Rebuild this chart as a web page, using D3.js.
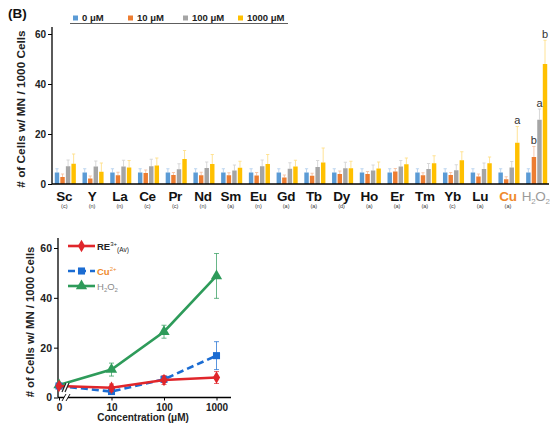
<!DOCTYPE html>
<html>
<head>
<meta charset="utf-8">
<script src="https://cdn.jsdelivr.net/npm/d3@7"></script>
<style>
  html, body { margin: 0; padding: 0; background: #fff; }
  svg { display: block; font-family: "Liberation Sans", Arial, sans-serif; }
</style>
</head>
<body>
<svg id="chart" width="550" height="425"></svg>
<script>
// ---- Panel (B) top: micronucleus counts per element and dose ----
const categories = ["Sc","Y","La","Ce","Pr","Nd","Sm","Eu","Gd","Tb","Dy","Ho","Er","Tm","Yb","Lu","Cu","H2O2"];
const subLabels  = ["(c)","(n)","(n)","(c)","(c)","(n)","(a)","(n)","(a)","(a)","(d)","(a)","(a)","(a)","(c)","(a)","(a)",""];
const doses = ["0 μM","10 μM","100 μM","1000 μM"];

const dose0    = [4.6,4.6,4.6,4.6,4.6,4.6,4.6,4.6,4.6,4.6,4.6,4.6,4.6,4.6,4.6,4.6,4.6,4.6];
const dose10   = [2.8,2.2,3.5,4.4,3.6,3.5,3.5,3.4,2.6,3.3,4.0,4.0,5.0,3.5,3.6,3.0,1.9,10.8];
const dose100  = [7.1,7.0,7.0,7.1,5.9,6.4,5.4,7.1,6.1,6.8,6.3,5.4,7.0,6.0,5.5,6.0,6.6,25.7];
const dose1000 = [8.1,4.9,6.6,7.4,10.0,8.0,6.5,8.0,7.0,8.6,6.3,6.2,7.9,8.3,9.5,8.3,16.5,48.0];

const err0    = [1.5,1.5,1.5,1.5,1.5,1.5,1.5,1.5,1.5,1.5,1.5,1.5,1.5,1.5,1.5,1.5,1.5,1.5];
const err10   = [1.2,1.0,1.2,1.2,1.0,1.2,1.0,1.2,1.0,1.0,1.2,1.0,1.2,1.0,1.0,1.0,1.0,4.2];
const err100  = [2.5,2.2,2.5,2.8,2.2,2.4,2.2,2.5,2.4,2.6,2.4,2.2,2.4,2.2,2.2,2.4,2.4,4.3];
const err1000 = [3.9,3.5,2.8,3.0,3.4,3.8,2.6,3.8,2.5,5.8,2.8,2.6,2.5,3.0,3.4,2.5,6.5,9.5];

// significance letters: [category, dose index, letter]
const sigLetters = [["Cu",3,"a"],["H2O2",1,"b"],["H2O2",2,"a"],["H2O2",3,"b"]];

const barColors = ["#5b9bd5","#ed7d31","#a5a5a5","#ffc000"];
const errColors = ["#b4d0ee","#f6c1a0","#d4d4d4","#ffe08a"];

// ---- Panel bottom: dose-response lines ----
const concLabels = ["0","10","100","1000"];
const reAvg    = [4.6, 3.9, 7.0, 8.0];
const reErr    = [1.0, 1.5, 1.8, 2.4];
const cuLine   = [4.6, 2.4, 7.3, 16.8];
const cuErr    = [0.8, 1.2, 1.2, 5.6];
const h2o2Line = [5.0, 11.2, 26.4, 48.8];
const h2o2Err  = [0.8, 2.6, 2.6, 9.0];

const svg = d3.select("#chart");
const bold = "bold";

// ================= top bar chart =================
const gTop = svg.append("g");
const yBar = d3.scaleLinear().domain([0, 60]).range([184, 34]);
const xBand = d3.scaleBand().domain(categories).range([52, 550]).paddingInner(0.24).paddingOuter(0.1);
const xInner = d3.scaleBand().domain(d3.range(4)).range([0, xBand.bandwidth()]).paddingInner(0.2);

const values = [dose0, dose10, dose100, dose1000];
const errs = [err0, err10, err100, err1000];

// error bars (upper only) drawn behind bars
categories.forEach((c, i) => {
  values.forEach((arr, s) => {
    const cx = xBand(c) + xInner(s) + xInner.bandwidth() / 2;
    const yTop = yBar(arr[i] + errs[s][i]);
    gTop.append("line").attr("x1", cx).attr("x2", cx)
      .attr("y1", yBar(arr[i])).attr("y2", yTop)
      .attr("stroke", errColors[s]).attr("stroke-width", 0.9);
    gTop.append("line").attr("x1", cx - 1.6).attr("x2", cx + 1.6)
      .attr("y1", yTop).attr("y2", yTop)
      .attr("stroke", errColors[s]).attr("stroke-width", 0.9);
  });
});

categories.forEach((c, i) => {
  values.forEach((arr, s) => {
    gTop.append("rect")
      .attr("x", xBand(c) + xInner(s))
      .attr("y", yBar(arr[i]))
      .attr("width", xInner.bandwidth())
      .attr("height", yBar(0) - yBar(arr[i]))
      .attr("fill", barColors[s]);
  });
});

// significance letters
sigLetters.forEach(([c, s, t]) => {
  const i = categories.indexOf(c);
  const cx = xBand(c) + xInner(s) + xInner.bandwidth() / 2;
  gTop.append("text").attr("x", cx).attr("y", yBar(values[s][i] + errs[s][i]) - 2.5)
    .attr("text-anchor", "middle").attr("font-size", 11).attr("fill", "#333").text(t);
});

// y axis
const yAxisTop = d3.axisLeft(yBar).tickValues([0, 20, 40, 60]).tickSize(4).tickPadding(2);
const gyTop = gTop.append("g").attr("transform", "translate(52,0)").call(yAxisTop);
gyTop.select(".domain").attr("d", "M0,27V184").attr("stroke", "#000").attr("stroke-width", 1.3);
gyTop.selectAll(".tick line").attr("stroke", "#000").attr("stroke-width", 1);
gyTop.selectAll(".tick text").attr("font-size", 10).attr("font-weight", bold).attr("fill", "#222")
  .attr("font-family", "Liberation Sans, Arial, sans-serif");

// x axis line
gTop.append("line").attr("x1", 52).attr("x2", 549).attr("y1", yBar(0)).attr("y2", yBar(0))
  .attr("stroke", "#000").attr("stroke-width", 1.5);

// category labels
categories.forEach((c, i) => {
  const cx = xBand(c) + xBand.bandwidth() / 2 - 1;
  const col = c === "Cu" ? "#ef8a2c" : (c === "H2O2" ? "#9a9a9a" : "#111");
  const t = gTop.append("text").attr("x", cx).attr("y", 201)
    .attr("text-anchor", "middle").attr("font-size", 13.5).attr("font-weight", bold)
    .attr("fill", col).attr("letter-spacing", -0.3);
  if (c === "H2O2") {
    t.attr("font-weight", "normal");
    t.append("tspan").text("H");
    t.append("tspan").attr("font-size", 8).attr("dy", 3).text("2");
    t.append("tspan").attr("dy", -3).text("O");
    t.append("tspan").attr("font-size", 8).attr("dy", 3).text("2");
  } else {
    t.text(c);
  }
  if (subLabels[i]) {
    gTop.append("text").attr("x", cx).attr("y", 208)
      .attr("text-anchor", "middle").attr("font-size", 5.5).attr("fill", "#333").text(subLabels[i]);
  }
});

// y axis title
gTop.append("text").attr("transform", "translate(25,109) rotate(-90)")
  .attr("text-anchor", "middle").attr("font-size", 11.8).attr("font-weight", bold).attr("fill", "#222")
  .text("# of Cells w/ MN / 1000 Cells");

// panel label
svg.append("text").attr("x", 8).attr("y", 18).attr("font-size", 13.5).attr("font-weight", bold)
  .attr("fill", "#111").text("(B)");

// legend
const legX = [73, 128, 183, 238];
doses.forEach((d, s) => {
  svg.append("rect").attr("x", legX[s]).attr("y", 15.5).attr("width", 5).attr("height", 5).attr("fill", barColors[s]);
  svg.append("text").attr("x", legX[s] + 9).attr("y", 21).attr("font-size", 9.5).attr("font-weight", bold)
    .attr("fill", "#222").text(d);
});
svg.append("line").attr("x1", 70).attr("x2", 288).attr("y1", 23.5).attr("y2", 23.5)
  .attr("stroke", "#333").attr("stroke-width", 0.8);

// ================= bottom line chart =================
const bot = svg.append("g");
const yLine = d3.scaleLinear().domain([0, 60]).range([397.5, 248]);
const xConc = d3.scalePoint().domain(concLabels).range([59, 216.5]);

// axes
const yAxisBot = d3.axisLeft(yLine).tickValues([0, 20, 40, 60]).tickSize(4).tickPadding(2);
const gyBot = bot.append("g").attr("transform", "translate(58,0)").call(yAxisBot);
gyBot.select(".domain").attr("d", "M0,238V397.5").attr("stroke", "#000").attr("stroke-width", 1.3);
gyBot.selectAll(".tick line").attr("stroke", "#000");
gyBot.selectAll(".tick text").attr("font-size", 10.5).attr("font-weight", bold).attr("fill", "#222")
  .attr("font-family", "Liberation Sans, Arial, sans-serif");

const xAxisBot = d3.axisBottom(xConc).tickSize(3).tickPadding(3);
const gxBot = bot.append("g").attr("transform", "translate(0,397.5)").call(xAxisBot);
gxBot.select(".domain").attr("d", "M58,0H231").attr("stroke", "#000").attr("stroke-width", 1.3);
gxBot.selectAll(".tick line").attr("stroke", "#000");
gxBot.selectAll(".tick text").attr("font-size", 10).attr("font-weight", bold).attr("fill", "#222")
  .attr("font-family", "Liberation Sans, Arial, sans-serif");

// axis break on x axis
const bx = xConc("0") + 7;
bot.append("path").attr("d", `M${bx - 4},401 L${bx},394 L${bx + 4},394 L${bx},401 Z`).attr("fill", "#fff");
[-2, 2].forEach(o => {
  bot.append("line").attr("x1", bx + o - 2).attr("x2", bx + o + 2).attr("y1", 401).attr("y2", 394)
    .attr("stroke", "#000").attr("stroke-width", 0.9);
});

// titles
bot.append("text").attr("x", 143).attr("y", 421).attr("text-anchor", "middle")
  .attr("font-size", 10).attr("font-weight", bold).attr("fill", "#222").text("Concentration (μM)");
bot.append("text").attr("transform", "translate(34,322) rotate(-90)")
  .attr("text-anchor", "middle").attr("font-size", 11.3).attr("font-weight", bold).attr("fill", "#222")
  .text("# of Cells w/ MN / 1000 Cells");

const seriesDefs = [
  { vals: h2o2Line, err: h2o2Err, color: "#2e9b5a", dash: null, marker: "triangle" },
  { vals: cuLine,   err: cuErr,   color: "#1b6cd2", dash: "7,4", marker: "square" },
  { vals: reAvg,    err: reErr,   color: "#e0262b", dash: null, marker: "diamond" }
];

const lineGen = d3.line().x((d, i) => xConc(concLabels[i])).y(d => yLine(d));
const symType = { triangle: d3.symbolTriangle, square: d3.symbolSquare, diamond: d3.symbolDiamond };
const symSize = { triangle: 55, square: 50, diamond: 45 };

seriesDefs.forEach(sd => {
  // error bars
  sd.vals.forEach((v, i) => {
    const cx = xConc(concLabels[i]);
    const lo = yLine(v - sd.err[i]), hi = yLine(v + sd.err[i]);
    bot.append("line").attr("x1", cx).attr("x2", cx).attr("y1", lo).attr("y2", hi)
      .attr("stroke", sd.color).attr("stroke-width", 0.9).attr("opacity", 0.8);
    [lo, hi].forEach(yy => bot.append("line").attr("x1", cx - 2.5).attr("x2", cx + 2.5)
      .attr("y1", yy).attr("y2", yy).attr("stroke", sd.color).attr("stroke-width", 0.9).attr("opacity", 0.8));
  });
  bot.append("path").datum(sd.vals).attr("d", lineGen).attr("fill", "none")
    .attr("stroke", sd.color).attr("stroke-width", 2.6)
    .attr("stroke-dasharray", sd.dash);
  sd.vals.forEach((v, i) => {
    bot.append("path").attr("d", d3.symbol(symType[sd.marker], symSize[sd.marker])())
      .attr("transform", `translate(${xConc(concLabels[i])},${yLine(v)})`)
      .attr("fill", sd.color);
  });
});

// break mark across lines near the origin
const lbx = xConc("0") + 7;
bot.append("path").attr("d", `M${lbx - 4},392 L${lbx},383 L${lbx + 3},383 L${lbx - 1},392 Z`)
  .attr("fill", "#fff");
[[-4, 0], [-1, 3]].forEach(([a, b]) => {
  bot.append("line").attr("x1", lbx + a).attr("y1", 392).attr("x2", lbx + b).attr("y2", 383)
    .attr("stroke", "#222").attr("stroke-width", 1.2);
});

// legend
const legItems = [
  { y: 246, color: "#e0262b", dash: null, marker: "diamond", label: "RE", sup: "3+", sub: "(Av)", tcol: "#222" },
  { y: 271, color: "#1b6cd2", dash: "7,4", marker: "square", label: "Cu", sup: "2+", sub: null, tcol: "#ef8a2c" },
  { y: 286, color: "#2e9b5a", dash: null, marker: "triangle", label: "H2O2", sup: null, sub: null, tcol: "#8a8a8a" }
];
legItems.forEach(it => {
  bot.append("line").attr("x1", 68).attr("x2", 95).attr("y1", it.y).attr("y2", it.y)
    .attr("stroke", it.color).attr("stroke-width", 2.6).attr("stroke-dasharray", it.dash);
  bot.append("path").attr("d", d3.symbol(symType[it.marker], symSize[it.marker])())
    .attr("transform", `translate(81.5,${it.y})`).attr("fill", it.color);
  const t = bot.append("text").attr("x", 97).attr("y", it.y + 3.5).attr("font-size", 9.5).attr("fill", it.tcol);
  if (it.label === "H2O2") {
    t.append("tspan").text("H");
    t.append("tspan").attr("font-size", 6).attr("dy", 2).text("2");
    t.append("tspan").attr("dy", -2).text("O");
    t.append("tspan").attr("font-size", 6).attr("dy", 2).text("2");
  } else {
    t.append("tspan").attr("font-weight", bold).text(it.label);
    t.append("tspan").attr("font-size", 6).attr("dy", -4).text(it.sup);
    if (it.sub) t.append("tspan").attr("font-size", 6.5).attr("dy", 6).text(it.sub);
  }
});
</script>
</body>
</html>
